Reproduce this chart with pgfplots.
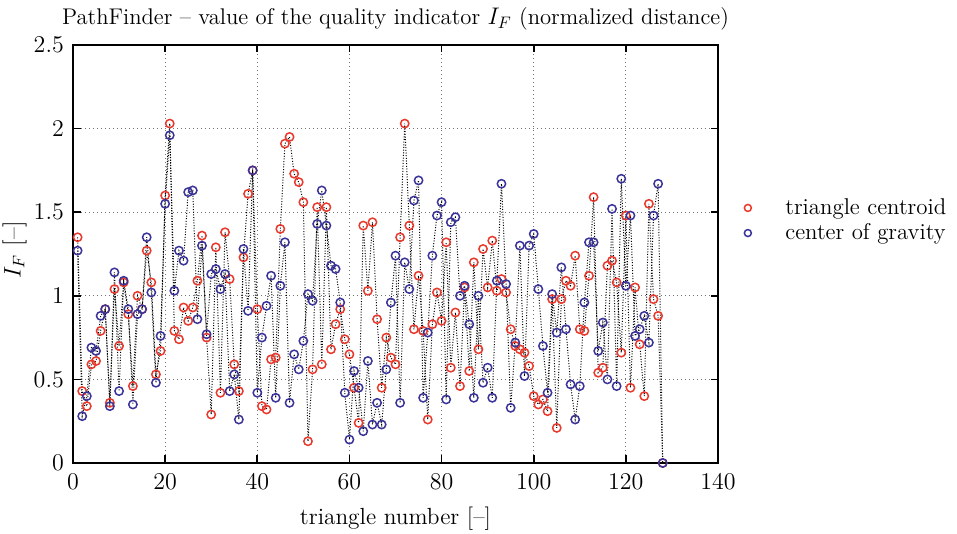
\documentclass[border=0pt]{standalone}
\usepackage{pgfplots}
\usepackage{pgfplotstable}
\pgfplotsset{compat=1.18}
\definecolor{cR}{HTML}{E8392C}
\definecolor{cB}{HTML}{3A3399}
\pgfplotsset{markonly legend/.style={legend image code/.code={%
  \draw[##1] plot[only marks, mark size=2.1pt] coordinates {(0cm,0cm)};
  \path[draw=none, fill=none] (-0.15cm,0cm) rectangle (0.72cm,0cm);}}}

% triangle number, triangle centroid (r), center of gravity (b)
\pgfplotstableread{
n r b
1 1.35 1.27
2 0.43 0.28
3 0.34 0.40
4 0.59 0.69
5 0.61 0.67
6 0.79 0.88
7 0.92 0.92
8 0.36 0.34
9 1.04 1.14
10 0.70 0.43
11 1.08 1.09
12 0.89 0.92
13 0.46 0.35
14 1.00 0.89
15 0.92 0.92
16 1.27 1.35
17 1.08 1.02
18 0.53 0.48
19 0.67 0.76
20 1.60 1.55
21 2.03 1.96
22 0.79 1.03
23 0.74 1.27
24 0.93 1.21
25 0.85 1.62
26 0.93 1.63
27 1.09 0.86
28 1.36 1.30
29 0.75 0.77
30 0.29 1.13
31 1.29 1.16
32 0.42 1.04
33 1.38 1.13
34 1.10 0.43
35 0.59 0.53
36 0.43 0.26
37 1.23 1.28
38 1.61 0.91
39 1.75 1.75
40 0.92 0.42
41 0.34 0.75
42 0.32 0.94
43 0.62 1.12
44 0.63 0.39
45 1.40 1.06
46 1.91 1.32
47 1.95 0.36
48 1.73 0.65
49 1.68 0.56
50 1.56 0.73
51 0.13 1.01
52 0.56 0.97
53 1.53 1.43
54 0.59 1.63
55 1.53 1.42
56 0.68 1.18
57 0.83 1.16
58 0.92 0.96
59 0.74 0.42
60 0.65 0.14
61 0.45 0.55
62 0.24 0.45
63 1.42 0.19
64 1.03 0.61
65 1.44 0.23
66 0.86 0.36
67 0.45 0.23
68 0.75 0.56
69 0.63 0.96
70 0.59 1.24
71 1.35 0.36
72 2.03 1.20
73 1.42 1.04
74 0.80 1.57
75 1.12 1.69
76 0.79 0.39
77 0.26 0.78
78 0.83 1.24
79 1.02 1.48
80 0.85 1.56
81 1.32 0.38
82 0.57 1.44
83 0.90 1.47
84 0.46 1.00
85 1.05 1.06
86 0.55 0.83
87 1.20 0.39
88 0.68 1.00
89 1.28 0.48
90 1.05 0.57
91 1.33 0.39
92 1.03 1.09
93 1.10 1.67
94 1.02 1.07
95 0.80 0.33
96 0.70 0.72
97 0.68 1.30
98 0.66 0.52
99 0.58 1.30
100 0.40 1.37
101 0.35 1.04
102 0.38 0.70
103 0.31 0.42
104 0.98 1.01
105 0.21 0.78
106 0.98 1.17
107 1.09 0.80
108 1.06 0.47
109 1.24 0.26
110 0.80 0.46
111 0.79 0.96
112 1.12 1.32
113 1.59 1.32
114 0.54 0.67
115 0.57 0.84
116 1.18 0.50
117 1.21 1.52
118 1.08 0.46
119 0.66 1.70
120 1.48 1.06
121 0.45 1.48
122 1.05 0.76
123 0.71 0.80
124 0.40 0.88
125 1.55 0.72
126 0.98 1.48
127 0.88 1.67
128 0.00 0.00
}\tri

\begin{document}
\begin{tikzpicture}
\begin{axis}[
  scale only axis, width=387pt, height=250.8pt,
  xmin=0, xmax=140, ymin=0, ymax=2.5,
  xtick={0,20,40,60,80,100,120,140},
  ytick={0,0.5,1,1.5,2,2.5},
  grid=major, grid style={black!55, dotted, line width=0.5pt},
  axis line style={line width=1.3pt},
  tick style={black, line width=1pt},
  major tick length=4.5pt, tick align=inside,
  tick label style={font=\fontsize{13.5}{16}\selectfont},
  xticklabel style={yshift=-3pt},
  yticklabel style={xshift=-2pt},
  title style={font=\fontsize{13.6}{16}\selectfont, anchor=base, yshift=6pt},
  title={PathFinder -- value of the quality indicator $I_F$ (normalized distance)},
  xlabel style={font=\fontsize{14}{16}\selectfont, at={(axis description cs:0.5,0)}, anchor=base, yshift=-37pt},
  xlabel={triangle number [--]},
  ylabel style={font=\fontsize{14.5}{17}\selectfont, at={([xshift=-35pt]axis description cs:0,0.51)}, anchor=center},
  ylabel={$I_F$ [--]},
  legend style={at={(1.027,0.58)}, anchor=west, draw=none, fill=none,
    font=\fontsize{13.7}{15}\selectfont, cells={anchor=west}, row sep=0pt},
]
\addplot[black, densely dotted, line width=0.6pt, forget plot] table[x=n, y=r] {\tri};
\addplot[only marks, mark=o, mark size=2.5pt, mark options={draw=cR, line width=0.9pt}, markonly legend]
  table[x=n, y=r] {\tri};
\addlegendentry{triangle centroid}
\addplot[black, densely dotted, line width=0.6pt, forget plot] table[x=n, y=b] {\tri};
\addplot[only marks, mark=o, mark size=2.5pt, mark options={draw=cB, line width=0.9pt}, markonly legend]
  table[x=n, y=b] {\tri};
\addlegendentry{center of gravity}
\coordinate (fsw) at (rel axis cs:0,0);
\coordinate (fne) at (rel axis cs:1,1);
\end{axis}
\pgfresetboundingbox
\path[use as bounding box] ([shift={(-43.8pt,-42.6pt)}]fsw) rectangle ([shift={(143.4pt,27pt)}]fne);
\end{tikzpicture}
\end{document}
